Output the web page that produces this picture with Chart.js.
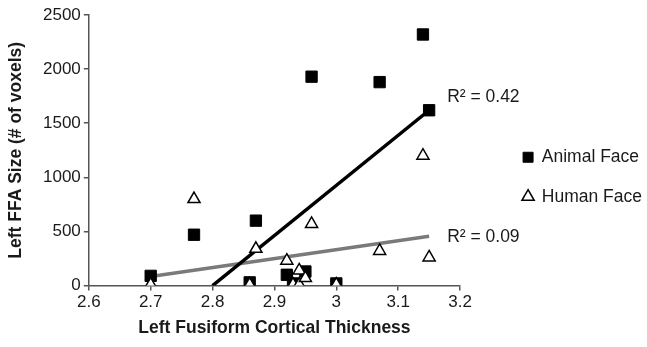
<!DOCTYPE html>
<html>
<head>
<meta charset="utf-8">
<script src="https://cdn.jsdelivr.net/npm/chart.js@4/dist/chart.umd.min.js"></script>
<style>
html,body{margin:0;padding:0;background:#fff;}
#wrap{width:647px;height:347px;}
</style>
</head>
<body>
<div id="wrap"><canvas id="c" width="647" height="347"></canvas></div>
<script>
// ---- data ----
const animalX = [2.70, 2.77, 2.86, 2.87, 2.92, 2.93, 2.95, 2.96, 3.00, 3.07, 3.14, 3.15];
const animalY = [90, 470, 30, 600, 100, 20, 130, 1930, 20, 1880, 2320, 1620];
const humanX = [2.70, 2.77, 2.86, 2.87, 2.92, 2.93, 2.94, 2.94, 2.95, 2.96, 3.00, 3.07, 3.14, 3.15];
const humanY = [10, 800, 10, 340, 230, 10, 10, 140, 70, 570, 10, 320, 1200, 260];
const animalTrendX = [2.80, 3.15];
const animalTrendY = [0, 1620];
const humanTrendX = [2.70, 3.15];
const humanTrendY = [85, 455];
const xTickLabels = ['2.6', '2.7', '2.8', '2.9', '3', '3.1', '3.2'];
const yTickLabels = ['0', '500', '1000', '1500', '2000', '2500'];
const seriesNames = ['Animal Face', 'Human Face'];
const r2Labels = ['R² = 0.42', 'R² = 0.09'];

const FONT = '"Liberation Sans", Arial, Helvetica, sans-serif';
const TXT = '#1a1a1a';
const LEGEND_SHIFT = 41;
const toPts = (xs, ys) => xs.map((x, i) => ({x: x, y: ys[i]}));

const r2Plugin = {
  id: 'r2',
  afterLayout(chart) {
    // move legend right, leaving room between plot and legend for the R² labels
    if (chart.legend) {
      chart.legend.left += LEGEND_SHIFT;
      chart.legend.right += LEGEND_SHIFT;
    }
  },
  afterDatasetsDraw(chart) {
    const ctx = chart.ctx;
    const xs = chart.scales.x, ys = chart.scales.y;
    const ends = [
      {x: animalTrendX[1], y: animalTrendY[1], dx: 18, dy: -13},
      {x: humanTrendX[1], y: humanTrendY[1], dx: 18, dy: 1}
    ];
    ctx.save();
    ctx.fillStyle = TXT;
    ctx.font = '17.5px ' + FONT;
    ctx.textBaseline = 'middle';
    ctx.textAlign = 'left';
    ends.forEach((e, i) => {
      ctx.fillText(r2Labels[i], xs.getPixelForValue(e.x) + e.dx, ys.getPixelForValue(e.y) + e.dy);
    });
    ctx.restore();
  }
};

new Chart(document.getElementById('c'), {
  type: 'scatter',
  data: {
    datasets: [
      {
        label: seriesNames[0],
        data: toPts(animalX, animalY),
        pointStyle: 'rect',
        pointRadius: 8,
        pointHoverRadius: 8,
        backgroundColor: '#000',
        borderColor: '#000',
        borderWidth: 1,
        order: 1
      },
      {
        label: seriesNames[1],
        data: toPts(humanX, humanY),
        pointStyle: 'triangle',
        pointRadius: 7,
        pointHoverRadius: 7,
        backgroundColor: '#fff',
        borderColor: '#000',
        borderWidth: 1.5,
        order: 0
      },
      {
        label: 'trendA',
        type: 'line',
        data: toPts(animalTrendX, animalTrendY),
        borderColor: '#000',
        borderWidth: 3.5,
        pointRadius: 0,
        showLine: true,
        fill: false,
        order: 2
      },
      {
        label: 'trendH',
        type: 'line',
        data: toPts(humanTrendX, humanTrendY),
        borderColor: '#7a7a7a',
        borderWidth: 3.5,
        pointRadius: 0,
        showLine: true,
        fill: false,
        order: 3
      }
    ]
  },
  options: {
    responsive: false,
    animation: false,
    layout: {padding: {left: 6, top: 15, right: 36, bottom: 8}},
    plugins: {
      tooltip: {enabled: false},
      legend: {
        position: 'right',
        align: 'center',
        labels: {
          usePointStyle: true,
          boxWidth: 10,
          boxHeight: 10,
          padding: 22,
          color: TXT,
          font: {family: FONT, size: 17.5},
          filter: (item) => item.datasetIndex < 2,
          sort: (a, b) => a.datasetIndex - b.datasetIndex
        }
      }
    },
    scales: {
      x: {
        type: 'linear',
        min: 2.6,
        max: 3.2,
        border: {display: true, color: '#555', width: 1.5},
        grid: {display: true, drawOnChartArea: false, drawTicks: true, tickLength: 5, color: '#555', lineWidth: 1.5},
        ticks: {
          stepSize: 0.1,
          color: TXT,
          font: {family: FONT, size: 17},
          padding: 2,
          callback: (v, i) => xTickLabels[i]
        },
        title: {display: true, text: 'Left Fusiform Cortical Thickness', color: TXT, font: {family: FONT, size: 17.5, weight: 'bold'}, padding: {top: 3, bottom: 0}}
      },
      y: {
        type: 'linear',
        min: 0,
        max: 2500,
        border: {display: true, color: '#555', width: 1.5},
        grid: {display: true, drawOnChartArea: false, drawTicks: true, tickLength: 5, color: '#555', lineWidth: 1.5},
        ticks: {
          stepSize: 500,
          color: TXT,
          font: {family: FONT, size: 17},
          padding: 3,
          callback: (v, i) => yTickLabels[i]
        },
        title: {display: true, text: 'Left FFA Size (# of voxels)', color: TXT, font: {family: FONT, size: 17.5, weight: 'bold'}, padding: {top: 0, bottom: 13}}
      }
    }
  },
  plugins: [r2Plugin]
});
</script>
</body>
</html>
